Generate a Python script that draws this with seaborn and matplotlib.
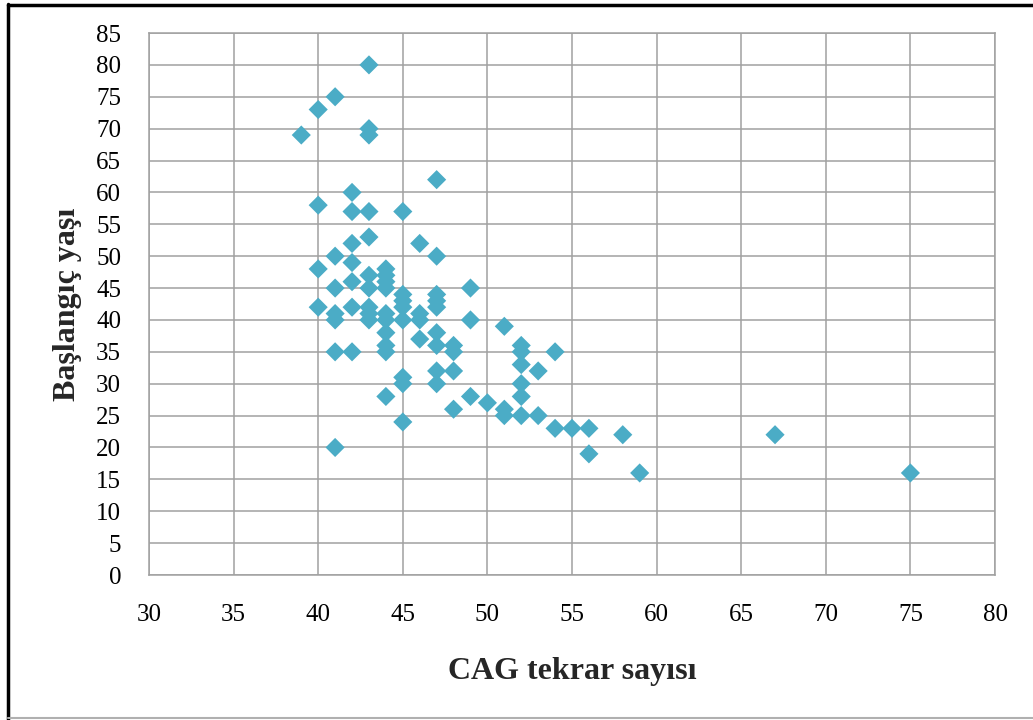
import matplotlib
matplotlib.use("Agg")
import matplotlib.pyplot as plt
import seaborn as sns
import pandas as pd
from matplotlib.lines import Line2D

# CAG repeat counts and onset ages
cag = ([39] + [40]*4 + [41]*7 + [42]*7 + [43]*10 + [44]*10 + [45]*8 + [46]*4
       + [47]*9 + [48]*4 + [49]*3 + [50] + [51]*3 + [52]*6 + [53]*2 + [54]*2
       + [55] + [56]*2 + [58] + [59] + [67] + [75])
onset = ([69]
         + [73, 58, 48, 42]
         + [75, 50, 45, 41, 40, 35, 20]
         + [60, 57, 52, 49, 46, 42, 35]
         + [80, 70, 69, 57, 53, 47, 45, 42, 41, 40]
         + [48, 47, 46, 45, 41, 40, 38, 36, 35, 28]
         + [57, 44, 43, 42, 40, 31, 30, 24]
         + [52, 41, 40, 37]
         + [62, 50, 44, 43, 42, 38, 36, 32, 30]
         + [36, 35, 32, 26]
         + [45, 40, 28]
         + [27]
         + [39, 26, 25]
         + [36, 35, 33, 30, 28, 25]
         + [32, 25]
         + [35, 23]
         + [23]
         + [23, 19]
         + [22]
         + [16]
         + [22]
         + [16])

x_ticks = list(range(30, 81, 5))
y_ticks = list(range(0, 86, 5))

df = pd.DataFrame({"CAG": cag, "Onset": onset})

sns.set_style("white")
plt.rcParams["font.family"] = ["Liberation Serif", "DejaVu Serif"]

fig = plt.figure(figsize=(10.33, 7.2), dpi=100)
ax = fig.add_axes([149/1033, 1-575/720, (995-149)/1033, (575-33)/720])

sns.scatterplot(data=df, x="CAG", y="Onset", marker="D", s=95,
                color="#4BACC6", edgecolor="none", linewidth=0, ax=ax, zorder=3)

ax.set_xlim(30, 80)
ax.set_ylim(0, 85)
ax.set_xticks(x_ticks)
ax.set_yticks(y_ticks)
ax.set_xticklabels([str(t) for t in x_ticks])
ax.set_yticklabels([str(t) for t in y_ticks])
ax.grid(True, color="#a0a0a0", linewidth=1.1)
ax.set_axisbelow(True)
for sp in ax.spines.values():
    sp.set_color("#a0a0a0")
    sp.set_linewidth(1.1)
ax.tick_params(axis="both", direction="out", length=8, width=1.1,
               color="#a0a0a0", labelsize=18, labelcolor="black")
ax.tick_params(axis="y", pad=12)
ax.tick_params(axis="x", pad=13)

ax.set_xlabel("CAG tekrar sayısı", fontsize=23, fontweight="bold", labelpad=22)
ax.set_ylabel("Başlangıç yaşı", fontsize=23, fontweight="bold", labelpad=10)

# outer frame
fig.add_artist(Line2D([8/1033, 8/1033], [0, 1-4/720], color="black", lw=2.5,
                      transform=fig.transFigure))
fig.add_artist(Line2D([8/1033, 1], [1-5/720, 1-5/720], color="black", lw=2.5,
                      transform=fig.transFigure))
fig.add_artist(Line2D([8/1033, 1], [1-718/720, 1-718/720], color="#b0b0b0", lw=1.5,
                      transform=fig.transFigure))

fig.savefig("out.png", dpi=100)
